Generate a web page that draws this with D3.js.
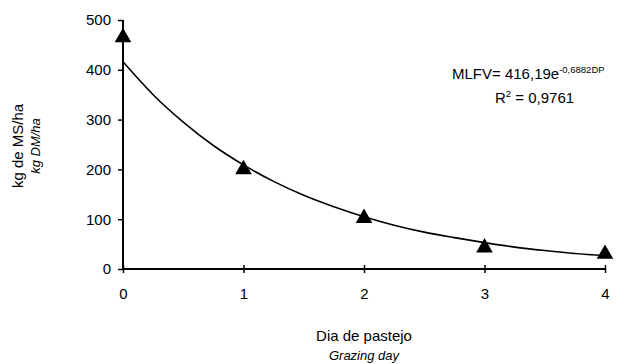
<!DOCTYPE html>
<html><head><meta charset="utf-8">
<script src="https://cdn.jsdelivr.net/npm/d3@7"></script>
<style>body{margin:0;background:#fff}text{font-family:"Liberation Sans",Arial,sans-serif;fill:#000}</style>
</head><body><svg id="c" width="635" height="364"></svg>
<script>
// Observed points
const days = [0, 1, 2, 3, 4];
const mass = [465, 200, 102, 43, 30];
// Trend line values
const trendX = [0, 0.25, 0.5, 0.75, 1, 1.25, 1.5, 1.75, 2, 2.25, 2.5, 2.75, 3, 3.25, 3.5, 3.75, 4];
const trendY = [416, 350, 295, 248, 209, 176, 148, 125, 105, 88, 74, 63, 53, 44, 37, 31, 27];
const yTicks = [0, 100, 200, 300, 400, 500];
const xTicks = [0, 1, 2, 3, 4];

const svg = d3.select("#c");
const x = d3.scaleLinear().domain([0, 4]).range([123, 605]);
const y = d3.scaleLinear().domain([0, 500]).range([269, 20]);
const F = "Liberation Sans, Arial, sans-serif";

const yAxis = svg.append("g").attr("transform", "translate(123,0)")
  .call(d3.axisLeft(y).tickValues(yTicks).tickSize(5).tickPadding(7).tickFormat(d3.format("d")));
yAxis.select(".domain").attr("stroke-width", 2).attr("d", "M0,20V269");
yAxis.selectAll(".tick line").attr("stroke-width", 1.5);
yAxis.selectAll("text").style("font-size", "15px").style("font-family", F);

const xAxis = svg.append("g").attr("transform", "translate(0,269)")
  .call(d3.axisBottom(x).tickValues(xTicks).tickSizeInner(4).tickSizeOuter(0).tickPadding(15).tickFormat(d3.format("d")));
xAxis.select(".domain").attr("stroke-width", 2).attr("d", "M122,0H606");
xAxis.selectAll(".tick line").attr("stroke-width", 1.5).attr("y1", -4);
xAxis.selectAll("text").style("font-size", "15px").style("font-family", F);

// trend line
const trend = trendX.map((d, i) => [d, trendY[i]]);
svg.append("path").datum(trend)
  .attr("fill", "none").attr("stroke", "#000").attr("stroke-width", 1.6)
  .attr("d", d3.line().x(d => x(d[0])).y(d => y(d[1])).curve(d3.curveMonotoneX));

// triangles
const tri = d3.symbol().type(d3.symbolTriangle).size(120);
svg.selectAll(".pt").data(days.map((d, i) => [d, mass[i]])).enter().append("path")
  .attr("transform", d => `translate(${x(d[0])},${y(d[1])})`)
  .attr("d", tri).attr("fill", "#000");

// equation
const eq = svg.append("text").attr("x", 452).attr("y", 79).style("font-size", "15px");
eq.append("tspan").text("MLFV= 416,19e");
eq.append("tspan").attr("dy", -6).style("font-size", "9.5px").text("-0,6882DP");
const r2 = svg.append("text").attr("x", 495).attr("y", 103).style("font-size", "15px");
r2.append("tspan").text("R");
r2.append("tspan").attr("dy", -6).style("font-size", "9.5px").text("2");
r2.append("tspan").attr("dy", 6).text(" = 0,9761");

// axis titles
svg.append("text").attr("transform", "translate(23,146) rotate(-90)").attr("text-anchor", "middle")
  .style("font-size", "15px").text("kg de MS/ha");
svg.append("text").attr("transform", "translate(40,146) rotate(-90)").attr("text-anchor", "middle")
  .style("font-size", "13px").style("font-style", "italic").text("kg DM/ha");
svg.append("text").attr("x", 364).attr("y", 341).attr("text-anchor", "middle")
  .style("font-size", "15px").text("Dia de pastejo");
svg.append("text").attr("x", 364).attr("y", 360).attr("text-anchor", "middle")
  .style("font-size", "13px").style("font-style", "italic").text("Grazing day");
</script></body></html>
